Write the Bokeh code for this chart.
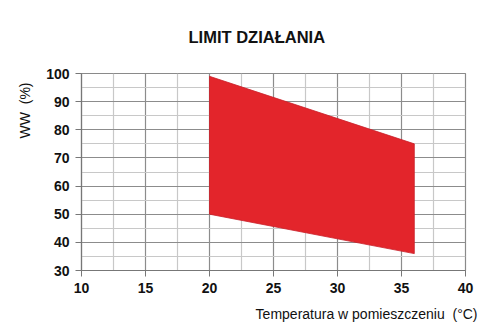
from bokeh.plotting import figure
from bokeh.models import Range1d, FixedTicker, Title
from bokeh.embed import file_html
from bokeh.resources import INLINE

# Data
temp_c = [20, 20, 36, 36]
rh_pct = [50, 99, 75, 36]
x_ticks = [10, 15, 20, 25, 30, 35, 40]
x_minor = [12.5, 17.5, 22.5, 27.5, 32.5, 37.5]
y_ticks = [30, 40, 50, 60, 70, 80, 90, 100]
y_minor = [35, 45, 55, 65, 75, 85, 95]
title_text = "LIMIT DZIAŁANIA"
x_label = "Temperatura w pomieszczeniu \u00a0(°C)"
y_label = "WW \u00a0(%)"

FONT = "Liberation Sans"

p = figure(width=497, height=336, output_backend="svg", toolbar_location=None,
           x_range=Range1d(10, 40), y_range=Range1d(30, 100),
           min_border_left=81, min_border_right=32, min_border_top=73, min_border_bottom=66)
p.background_fill_color = "white"
p.border_fill_color = "white"
p.outline_line_color = "#8a8a8a"
p.outline_line_width = 1.2

p.patch(temp_c, rh_pct, fill_color="#e3252b", line_color="#c9202a", line_width=0.8)

for ax, ticks, minor in ((p.xaxis, x_ticks, x_minor), (p.yaxis, y_ticks, y_minor)):
    ax.ticker = FixedTicker(ticks=ticks, minor_ticks=minor)
    ax.axis_line_color = "#777777"
    ax.axis_line_width = 1.2
    ax.major_tick_line_color = "#777777"
    ax.major_tick_out = 6
    ax.major_tick_in = 0
    ax.minor_tick_line_color = None
    ax.major_label_text_font = FONT
    ax.major_label_text_font_style = "bold"
    ax.major_label_text_font_size = "14px"
    ax.major_label_text_color = "#111111"
    ax.major_label_standoff = 6

p.xgrid.grid_line_color = "#8c8c8c"
p.ygrid.grid_line_color = "#8c8c8c"
p.xgrid.grid_line_width = 1.2
p.ygrid.grid_line_width = 1.2
p.xgrid.minor_grid_line_color = "#c8c8c8"
p.ygrid.minor_grid_line_color = "#c8c8c8"
p.xgrid.minor_grid_line_width = 1.2
p.ygrid.minor_grid_line_width = 1.2
p.xgrid.level = "underlay"
p.ygrid.level = "underlay"

p.add_layout(Title(text=title_text, text_font=FONT, text_font_style="bold",
                   text_font_size="16.5px", align="left", offset=107,
                   vertical_align="top", standoff=52, text_color="#111111"), "above")
p.add_layout(Title(text=x_label, text_font=FONT, text_font_style="normal",
                   text_font_size="14px", align="right", offset=-12,
                   vertical_align="top", standoff=20, text_color="#111111"), "below")
p.add_layout(Title(text=y_label, text_font=FONT, text_font_style="normal",
                   text_font_size="14px", align="right", offset=9,
                   standoff=22, text_color="#111111"), "left")

open("out.html", "w").write(file_html(p, INLINE))
